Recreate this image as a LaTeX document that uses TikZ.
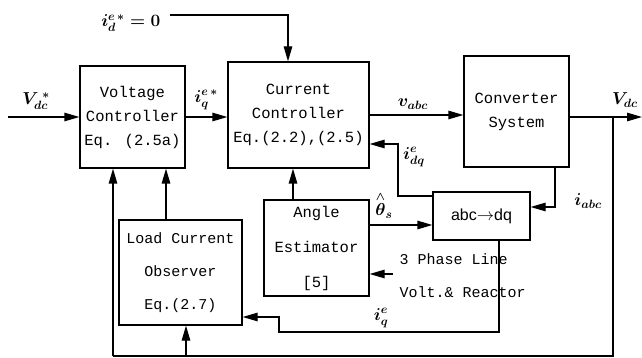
\documentclass[tikz,border=0pt]{standalone}
\usepackage{fontspec}
\usepackage{amsmath}
\usetikzlibrary{arrows.meta, positioning}
\newfontfamily\boxfont{Liberation Mono}
\newfontfamily\dqfont{Liberation Sans}

\begin{document}
\begin{tikzpicture}[x=1pt, y=-1pt,
    blockbox/.style={draw, line width=1.3pt, align=center, inner sep=0pt,
      font=\boxfont\fontsize{15.5}{24}\selectfont},
    flow/.style={line width=1.3pt, -{Triangle[length=15pt, width=8.5pt]}},
    wire/.style={line width=1.3pt},
    sig/.style={font=\fontsize{18}{20}\selectfont\boldmath}]
  \useasboundingbox (0,0) rectangle (642,358);

  \node[blockbox, minimum width=105pt, minimum height=102pt] (vc) at (132.5,117)
    {Voltage\\Controller\\Eq. (2.5a)};
  \node[blockbox, minimum width=141pt, minimum height=106pt] (cc) at (298.5,115)
    {Current\\Controller\\Eq.(2.2),(2.5)};
  \node[blockbox, minimum width=105pt, minimum height=111pt] (conv) at (516.5,111.5)
    {Converter\\System};
  \node[blockbox, minimum width=123pt, minimum height=105pt,
    font=\boxfont\fontsize{15}{33}\selectfont] (lco) at (180.5,272.5)
    {Load Current\\Observer\\Eq.(2.7)};
  \node[blockbox, minimum width=105pt, minimum height=96pt,
    font=\boxfont\fontsize{15.5}{35}\selectfont] (ae) at (316.5,248)
    {Angle\\Estimator\\{[5]}};
  \node[blockbox, minimum width=97pt, minimum height=48pt,
    font=\dqfont\fontsize{16}{18}\selectfont] (dq) at (481.5,216)
    {abc$\rightarrow$dq};
  \node[align=left, anchor=west, font=\boxfont\fontsize{15}{33}\selectfont]
    (phase) at (396,276) {3 Phase Line\\Volt.\& Reactor};

  \coordinate (in) at (8,117);
  \coordinate (out) at (642,117);
  \coordinate (tap) at (613,117);
  \coordinate (corner) at (113,356);
  \coordinate (idref) at (170,15);
  \coordinate (jdq) at (398,144);
  \coordinate (jabc) at (555,207);
  \coordinate (jq1) at (499,332);
  \coordinate (jq2) at (279,317);
  \coordinate (pin) at (393,274);

  \draw[flow] (in) -- (vc.west);
  \draw[flow] (vc.east) -- (vc.east -| cc.west);
  \draw[flow] (cc.east) -- (cc.east -| conv.west);
  \draw[flow] (conv.east |- out) -- (out);
  \draw[flow] (idref) -| ([xshift=-10.5pt]cc.north);
  \draw[flow] ([xshift=-23.5pt]ae.north) -- ([xshift=-23.5pt]ae.north |- cc.south);
  \draw[flow] ([yshift=23pt]ae.east) -- ([yshift=23pt]ae.east -| dq.west);
  \draw[flow] ([yshift=20pt]dq.west) -| (jdq) -- (jdq -| cc.east);
  \draw[flow] (jabc |- conv.south) -- (jabc) -- (jabc -| dq.east);
  \draw[flow] (jq1 |- dq.south) -- (jq1) -| (jq2) -- (jq2 -| lco.east);
  \draw[flow] (pin) -- (pin -| ae.east);
  \draw[flow] ([xshift=-14.5pt]lco.north) -- ([xshift=-14.5pt]lco.north |- vc.south);
  \draw[wire] (tap) |- (corner);
  \draw[flow] (corner) -- (corner |- vc.south);
  \draw[flow] ([xshift=5.5pt]lco.south |- corner) -- ([xshift=5.5pt]lco.south);

  \node[sig] (vdcref) at (36,101) {$V_{dc}^{\;*}$};
  \node[sig] (iqref) at (206,100) {$i_q^{e\,*}$};
  \node[sig, anchor=east] (idlabel) at (164,23) {$i_d^{e\,*}=0$};
  \node[sig] (vabc) at (413,104) {$v_{abc}$};
  \node[sig] (vdc) at (625,100) {$V_{dc}$};
  \node[sig] (idq) at (414,157) {$i_{dq}^{e}$};
  \node[sig] (theta) at (384,205) {$\overset{\wedge}{\theta}_s$};
  \node[sig] (iabc) at (588,201) {$i_{abc}$};
  \node[sig] (iq) at (381,318) {$i_q^{e}$};
\end{tikzpicture}
\end{document}
